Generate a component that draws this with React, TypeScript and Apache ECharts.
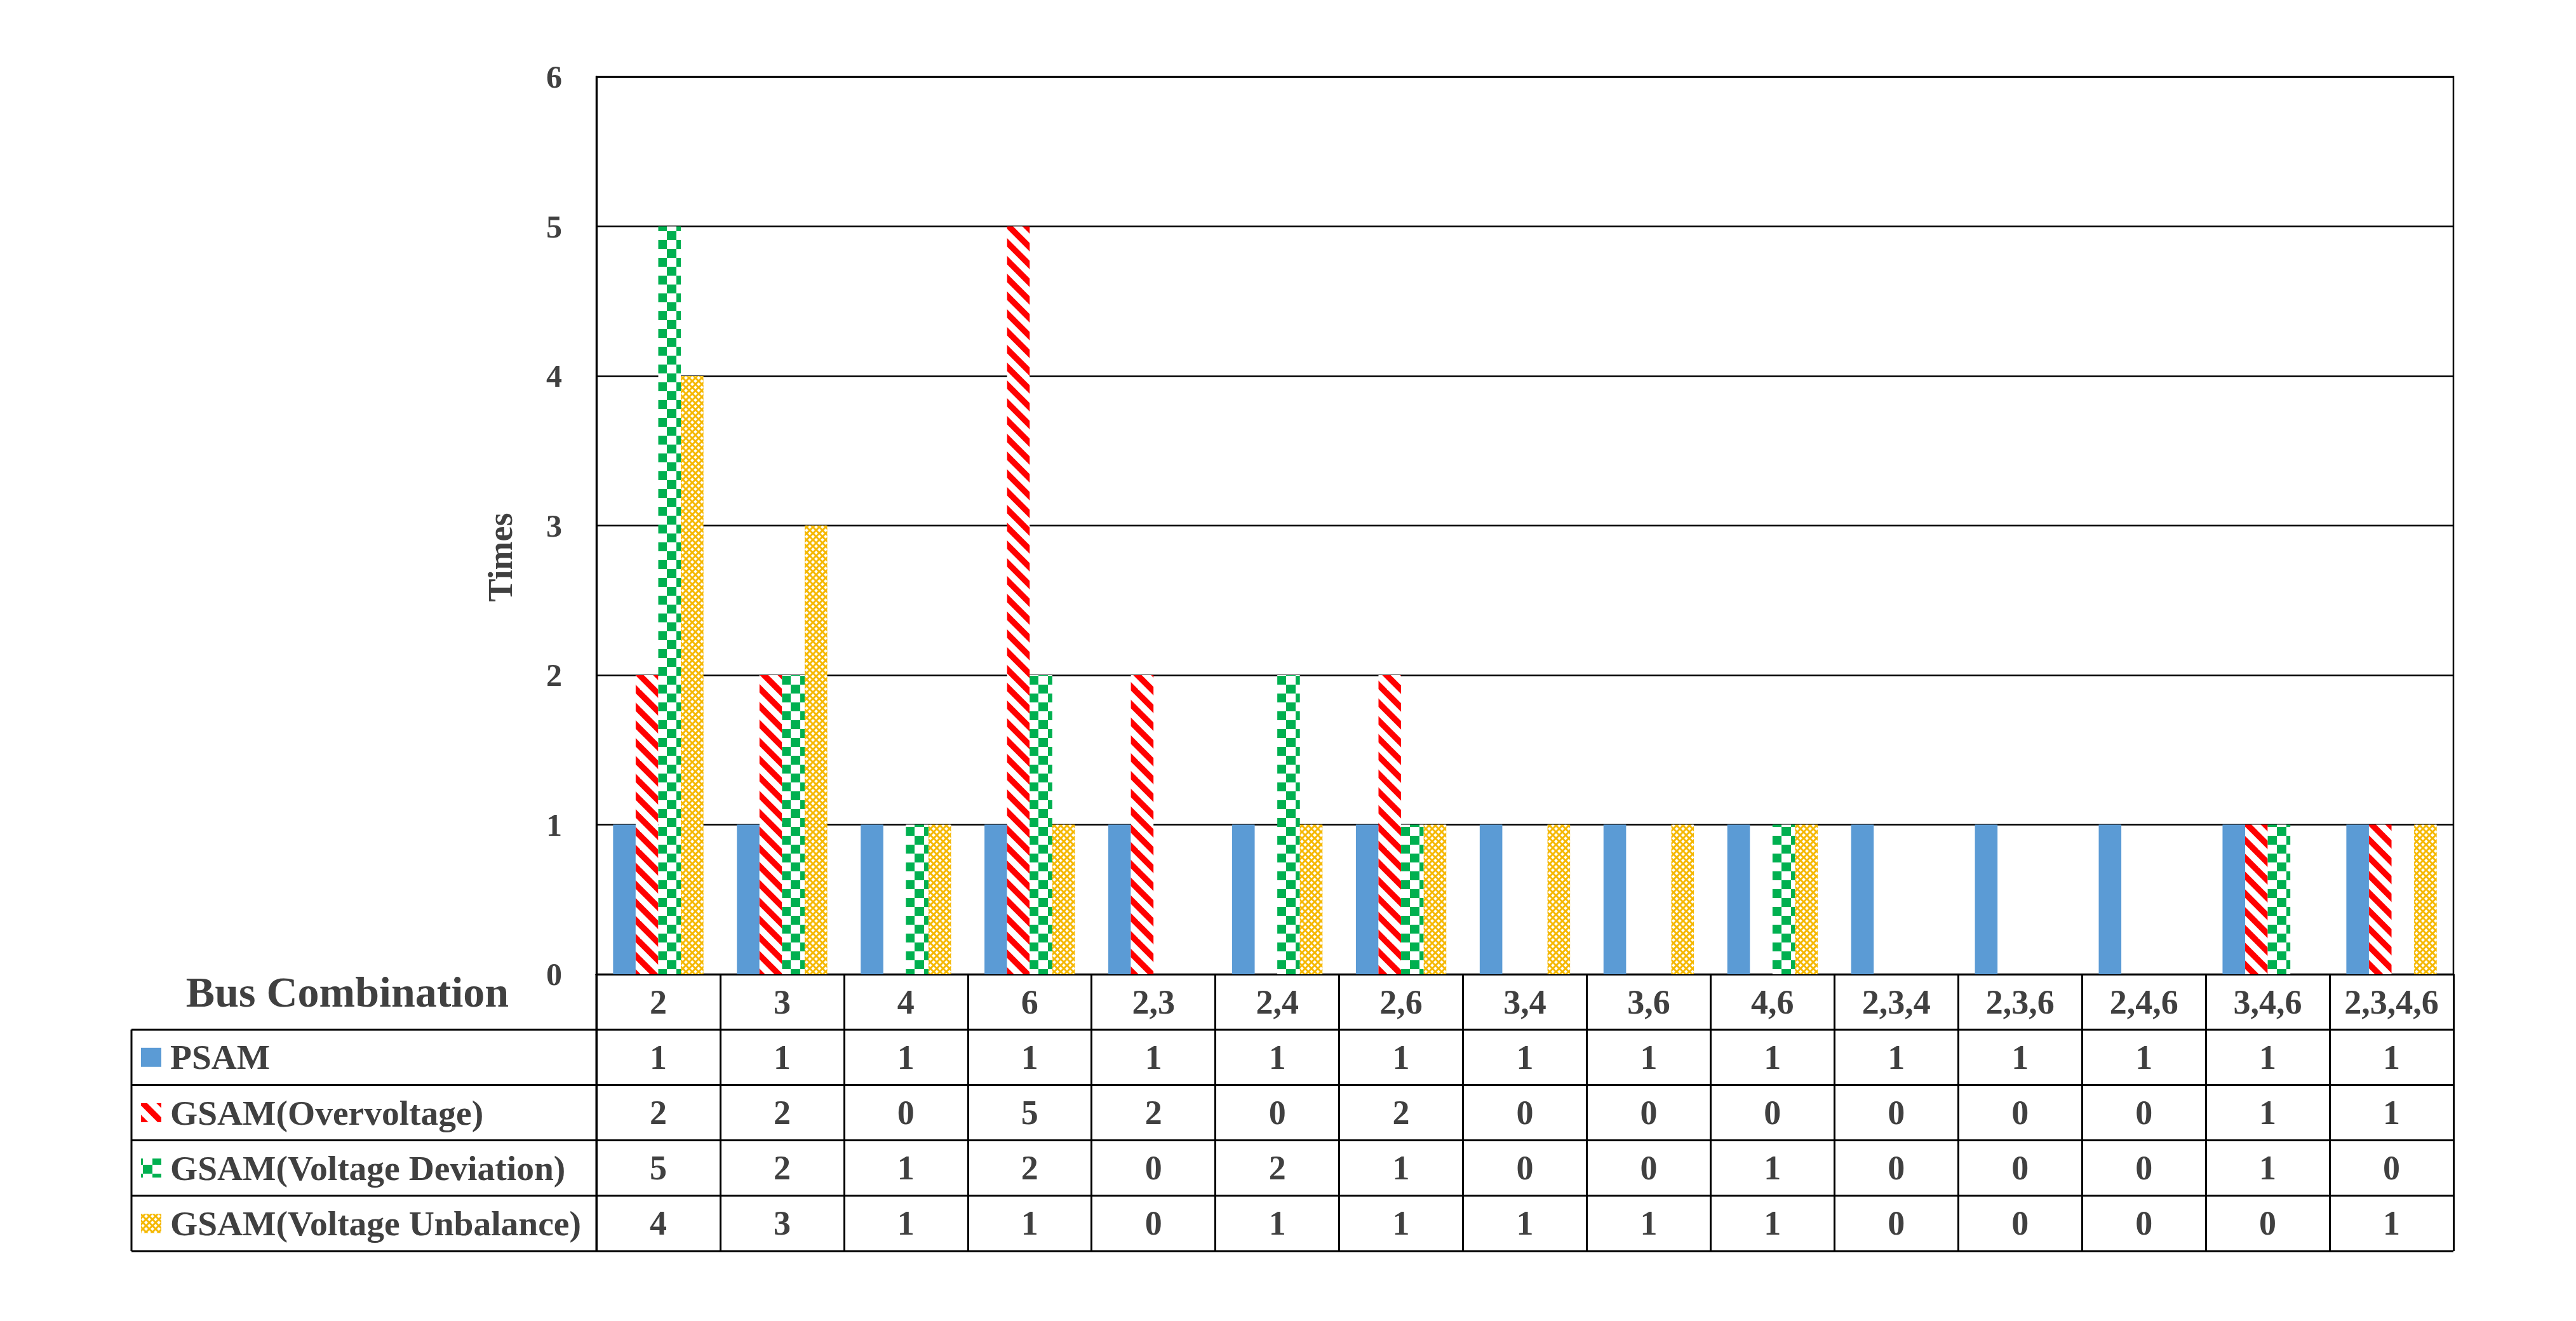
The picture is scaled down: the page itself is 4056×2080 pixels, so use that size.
import React, { useEffect, useRef } from 'react';
import * as echarts from 'echarts';

// ---------- data ----------
const categories = ['2', '3', '4', '6', '2,3', '2,4', '2,6', '3,4', '3,6', '4,6', '2,3,4', '2,3,6', '2,4,6', '3,4,6', '2,3,4,6'];
const seriesNames = ['PSAM', 'GSAM(Overvoltage)', 'GSAM(Voltage Deviation)', 'GSAM(Voltage Unbalance)'];
const psam = [1, 1, 1, 1, 1, 1, 1, 1, 1, 1, 1, 1, 1, 1, 1];
const overvoltage = [2, 2, 0, 5, 2, 0, 2, 0, 0, 0, 0, 0, 0, 1, 1];
const deviation = [5, 2, 1, 2, 0, 2, 1, 0, 0, 1, 0, 0, 0, 1, 0];
const unbalance = [4, 3, 1, 1, 0, 1, 1, 1, 1, 1, 0, 0, 0, 0, 1];
const yMin = 0;
const yMax = 6;
const yInterval = 1;
const tableTitle = 'Bus Combination';
const yAxisName = 'Times';

// ---------- layout ----------
const W = 4056;
const H = 2080;
const GL = 939;
const GT = 121;
const GR = 3863;
const GB = 1534;
const TL = 207;
const ROW = 87.2;
const FONT = '"Liberation Serif", "DejaVu Serif", serif';
const TXT = '#404040';

function makeCanvas(w: number, h: number, draw: (ctx: CanvasRenderingContext2D) => void) {
  const c = document.createElement('canvas');
  c.width = w;
  c.height = h;
  const ctx = c.getContext('2d')!;
  ctx.fillStyle = '#ffffff';
  ctx.fillRect(0, 0, w, h);
  draw(ctx);
  return { image: c.toDataURL(), repeat: 'repeat', imageWidth: w, imageHeight: h } as any;
}

function stripePattern() {
  const s = 28;
  return makeCanvas(s, s, (ctx) => {
    ctx.strokeStyle = '#FF0000';
    ctx.lineWidth = 9.5;
    ctx.lineCap = 'butt';
    for (const k of [-1, 0, 1]) {
      ctx.beginPath();
      ctx.moveTo(k * s - 6, -6);
      ctx.lineTo(k * s + s + 6, s + 6);
      ctx.stroke();
    }
  });
}

function checkerPattern() {
  const w = 30;
  const h = 28;
  return makeCanvas(w, h, (ctx) => {
    ctx.fillStyle = '#00B050';
    ctx.fillRect(0, 0, w / 2, h / 2);
    ctx.fillRect(w / 2, h / 2, w / 2, h / 2);
  });
}

function crossPattern() {
  const s = 10;
  return makeCanvas(s, s, (ctx) => {
    ctx.strokeStyle = '#F5B800';
    ctx.lineWidth = 3;
    for (const k of [-1, 0, 1]) {
      ctx.beginPath();
      ctx.moveTo(k * s - 3, -3);
      ctx.lineTo(k * s + s + 3, s + 3);
      ctx.stroke();
      ctx.beginPath();
      ctx.moveTo(k * s + s + 3, -3);
      ctx.lineTo(k * s - 3, s + 3);
      ctx.stroke();
    }
  });
}

export default function App() {
  const ref = useRef<HTMLDivElement>(null);

  useEffect(() => {
    if (!ref.current) return;
    const chart = echarts.init(ref.current, null, { renderer: 'svg' });

    const fills: any[] = ['#5B9BD5', stripePattern(), checkerPattern(), crossPattern()];
    const seriesData = [psam, overvoltage, deviation, unbalance];

    const cellStyle = { fontSize: 54, fontFamily: FONT, fontWeight: 'bold', color: TXT, lineHeight: ROW, align: 'center' };

    const graphic: any[] = [];
    // table horizontal lines
    for (let k = 1; k <= 5; k++) {
      const y = GB + ROW * k;
      graphic.push({ type: 'line', z: 100, shape: { x1: TL, y1: y, x2: GR, y2: y }, style: { stroke: '#000', lineWidth: 3 } });
    }
    graphic.push({ type: 'line', z: 100, shape: { x1: TL, y1: GB + ROW, x2: TL, y2: GB + ROW * 5 }, style: { stroke: '#000', lineWidth: 3 } });
    graphic.push({ type: 'line', z: 100, shape: { x1: GL, y1: GB, x2: GL, y2: GB + ROW * 5 }, style: { stroke: '#000', lineWidth: 3 } });
    // title
    graphic.push({
      type: 'text', z: 100, x: 547, y: GB + ROW / 2 - 16,
      style: { text: tableTitle, fontSize: 68, fontFamily: FONT, fontWeight: 'bold', fill: TXT, align: 'center', verticalAlign: 'middle' },
    });
    // legend rows
    seriesNames.forEach((name, i) => {
      const cy = GB + ROW * (i + 1.5);
      graphic.push({ type: 'rect', z: 100, shape: { x: 222, y: cy - 15, width: 32, height: 30 }, style: { fill: fills[i] } });
      graphic.push({
        type: 'text', z: 100, x: 268, y: cy,
        style: { text: name, fontSize: 55.5, fontFamily: FONT, fontWeight: 'bold', fill: TXT, align: 'left', verticalAlign: 'middle' },
      });
    });

    chart.setOption({
      animation: false,
      backgroundColor: '#ffffff',
      grid: { left: GL, top: GT, width: GR - GL, height: GB - GT, show: true, borderColor: '#000', borderWidth: 2.5, backgroundColor: 'transparent', containLabel: false },
      xAxis: {
        type: 'category',
        data: categories,
        axisLine: { show: true, lineStyle: { color: '#000', width: 3 } },
        axisTick: { show: true, alignWithLabel: false, interval: 0, length: ROW * 5, lineStyle: { color: '#000', width: 3 } },
        splitLine: { show: false },
        axisLabel: {
          interval: 0,
          margin: 0,
          hideOverlap: false,
          ...cellStyle,
          formatter: (value: string, index: number) =>
            [`{c|${value}}`, ...seriesData.map((d) => `{c|${d[index]}}`)].join('\n'),
          rich: { c: cellStyle },
        },
      },
      yAxis: {
        type: 'value',
        min: yMin,
        max: yMax,
        interval: yInterval,
        name: yAxisName,
        nameLocation: 'middle',
        nameRotate: 90,
        nameGap: 124,
        nameTextStyle: { fontSize: 54, fontFamily: FONT, fontWeight: 'bold', color: TXT, padding: [0, 100, 0, 0] },
        axisLine: { show: true, lineStyle: { color: '#000', width: 3 } },
        axisTick: { show: false },
        splitLine: { show: true, lineStyle: { color: '#000', width: 2.5 } },
        axisLabel: { margin: 54, fontSize: 50, fontFamily: FONT, fontWeight: 'bold', color: TXT },
      },
      series: seriesNames.map((name, i) => ({
        name,
        type: 'bar',
        data: seriesData[i],
        barGap: '0%',
        barCategoryGap: '27%',
        itemStyle: { color: fills[i] },
        z: 3,
      })),
      graphic,
    });

    return () => chart.dispose();
  }, []);

  return <div ref={ref} style={{ position: 'fixed', left: 0, top: 0, width: W, height: H, background: '#fff' }} />;
}
